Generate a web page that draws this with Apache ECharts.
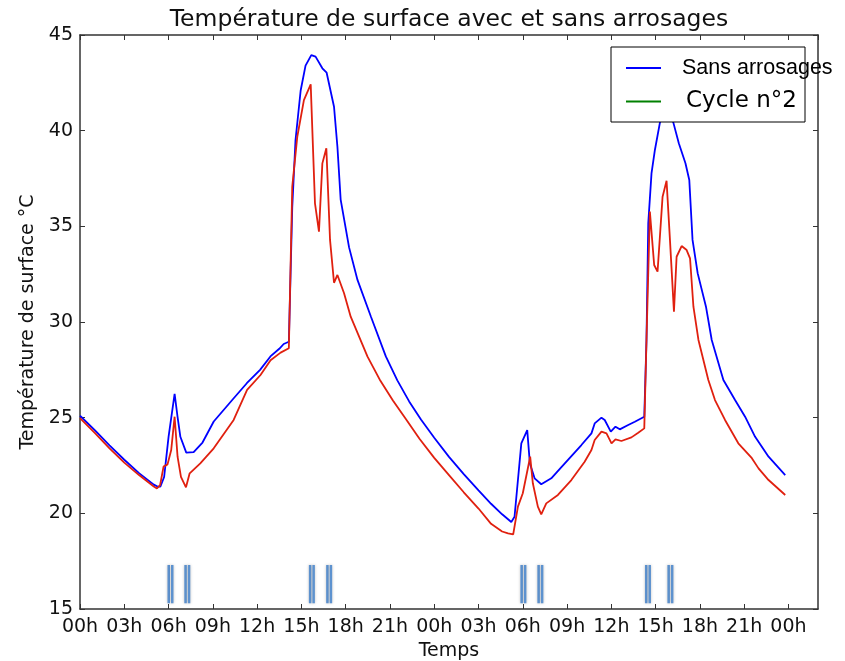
<!DOCTYPE html>
<html><head><meta charset="utf-8">
<script src="https://cdn.jsdelivr.net/npm/echarts@6/dist/echarts.min.js"></script>
<style>html,body{margin:0;padding:0;background:#fff}#c{width:845px;height:661px}</style>
</head><body><div id="c"></div>
<script>
const xTickLabels = ['00h','03h','06h','09h','12h','15h','18h','21h','00h','03h','06h','09h','12h','15h','18h','21h','00h'];

const blueHours = [0,1,2,3,4,5,5.25,5.45,5.7,6.0, 6.41,6.6,6.8,7.2,7.7,8.3,9.06,10.4,11.3,12.2, 12.9,13.5,13.8,14.15,14.38,14.6,14.95,15.28,15.67,15.96, 16.42,16.71,17.21,17.44,17.66,18.23,18.8,19.7,20.72,21.5, 22.3,23.1,24.0,25.0,26.0,27.0,27.85,28.6,29.22,29.44,29.9, 30.3,30.48,30.8,31.25,31.93,32.6,33.97,34.65,34.87,35.33, 35.55,35.96,36.28,36.57,37.14,37.59,38.23,38.38,38.5,38.72, 38.95,39.29,39.6,39.9,40.2,40.57,41.02,41.28,41.5,41.85, 42.41,42.8,43.59,44.38,45.06,45.74,46.65,47.78];
const blueTemps = [25.1,24.35,23.55,22.8,22.1,21.5,21.4,21.4,21.9,24.0, 26.24,25.1,24.0,23.17,23.2,23.7,24.8,26.0,26.8,27.5, 28.2,28.6,28.85,28.97,36.0,39.5,42.1,43.4,43.95,43.87, 43.26,43.03,41.25,39.16,36.4,33.9,32.2,30.3,28.2,26.95, 25.85,24.9,23.95,22.95,22.05,21.2,20.5,19.95,19.55,19.82,23.66, 24.35,22.6,21.83,21.52,21.83,22.4,23.57,24.18,24.7,25.0, 24.88,24.27,24.53,24.39,24.62,24.79,25.05,29.06,35.16,37.77, 38.99,40.42,41.0,41.0,40.42,39.34,38.3,37.42,34.29,32.54, 30.8,29.06,26.97,25.92,25.05,24.0,22.96,22.0];

const redHours = [0,1,2,3,4,5, 5.21,5.43,5.66,5.93,6.18,6.41,6.61,6.84,7.18,7.43, 8.15,9.06,10.41,11.32,12.23,12.91,13.59,14.15, 14.38,14.72,15.17,15.63,15.69,15.92,16.19,16.42,16.69,16.94, 17.21,17.44,17.89,18.34,19.48, 20.3,21.2,22.1,23.0,24.0,25.0,26.0,27.0,27.85,28.6,29.0,29.35, 29.67,30.0,30.5,30.68,31.02,31.25,31.59, 32.38,33.29,34.19,34.65,34.87,35.33,35.67,36.01,36.28,36.68, 37.36,37.82,38.23,38.38,38.61,38.9,39.13,39.47,39.74,39.97, 40.24,40.42,40.76,41.1,41.33,41.56,41.9,42.57,43.02,43.7, 44.6,45.52,45.97,46.65,47.78];
const redTemps = [24.98,24.2,23.4,22.65,22.0,21.4, 21.3,21.48,22.44,22.56,23.31,25.05,22.96,21.91,21.36,22.09, 22.61,23.4,24.88,26.45,27.23,28.0,28.4,28.63, 37.07,39.68,41.6,42.42,42.39,36.2,34.72,38.29,39.08,34.29, 32.05,32.46,31.5,30.28,28.19, 27.0,25.9,24.9,23.9,22.9,22.0,21.1,20.25,19.45,19.05,18.95,18.9, 20.35,21.05,22.96,21.57,20.35,19.95,20.52, 20.96,21.74,22.7,23.31,23.83,24.27,24.18,23.66,23.87,23.78, 23.97,24.21,24.44,29.06,35.77,32.98,32.63,36.55,37.38,34.29, 30.54,33.41,33.97,33.76,33.33,30.8,29.06,26.97,25.92,24.88, 23.66,22.88,22.35,21.74,20.96];

const wateringHours = [6.13, 7.27, 15.71, 16.88, 30.04, 31.19, 38.48, 40.0];
const markerTop = 17.3;
const markerBottom = 15.3;

const zip = (a, b) => a.map((v, i) => [v, b[i]]);
const font = 'DejaVu Sans';
const axisCol = '#333';

const xBase = {
  type: 'value', min: 0, max: 50, interval: 3,
  axisLine: { show: true, onZero: false, lineStyle: { color: axisCol, width: 1.5 } },
  axisTick: { show: true, inside: true, length: 5, lineStyle: { color: axisCol, width: 1 } },
  splitLine: { show: false }
};
const yBase = {
  type: 'value', min: 15, max: 45, interval: 5,
  axisLine: { show: true, onZero: false, lineStyle: { color: axisCol, width: 1.5 } },
  axisTick: { show: true, inside: true, length: 5, lineStyle: { color: axisCol, width: 1 } },
  splitLine: { show: false }
};

const chart = echarts.init(document.getElementById('c'));
chart.setOption({
  animation: false,
  backgroundColor: '#fff',
  title: {
    text: 'Température de surface avec et sans arrosages',
    left: 449, top: 8, textAlign: 'center', padding: 0,
    textStyle: { fontFamily: font, fontSize: 23.5, fontWeight: 'normal', color: '#111' }
  },
  grid: { left: 80, right: 27, top: 35, bottom: 52, containLabel: false, outerBoundsMode: 'none' },
  xAxis: [
    Object.assign({}, xBase, {
      position: 'bottom',
      name: 'Temps', nameLocation: 'middle', nameGap: 33,
      nameTextStyle: { fontFamily: font, fontSize: 19, color: '#111' },
      axisLabel: {
        fontFamily: font, fontSize: 19, color: '#111', margin: 9,
        showMaxLabel: false,
        formatter: v => (v % 3 === 0 && v / 3 < xTickLabels.length) ? xTickLabels[v / 3] : ''
      }
    }),
    Object.assign({}, xBase, { position: 'top', axisLabel: { show: false } })
  ],
  yAxis: [
    Object.assign({}, yBase, {
      position: 'left',
      name: 'Température de surface °C', nameLocation: 'middle', nameGap: 35, nameRotate: 90,
      nameTextStyle: { fontFamily: font, fontSize: 19, color: '#111' },
      axisLabel: { fontFamily: font, fontSize: 19, color: '#111', margin: 7 }
    }),
    Object.assign({}, yBase, { position: 'right', axisLabel: { show: false } })
  ],
  legend: [
    {
      data: [{ name: 'Sans arrosages', icon: 'rect' }],
      left: 626, top: 57, padding: 0, itemWidth: 35, itemHeight: 2,
      selectedMode: false, z: 5,
      textStyle: { fontFamily: 'Liberation Sans', fontSize: 21.5, color: '#000', padding: [0, 0, 0, 16] }
    },
    {
      data: [{ name: 'Cycle n°2', icon: 'rect' }],
      left: 626, top: 90, padding: 0, itemWidth: 35, itemHeight: 2,
      selectedMode: false, z: 5,
      textStyle: { fontFamily: font, fontSize: 23, color: '#000', padding: [0, 0, 0, 20] }
    }
  ],
  graphic: [
    { type: 'rect', z: 3, shape: { x: 611, y: 47, width: 194, height: 75 },
      style: { fill: '#fff', stroke: '#000', lineWidth: 1 } }
  ],
  series: [
    {
      name: 'Sans arrosages', type: 'line', data: zip(blueHours, blueTemps),
      symbol: 'none', showSymbol: false, color: '#0000ff',
      lineStyle: { color: '#0000ff', width: 1.8 }, z: 2
    },
    {
      name: 'Avec arrosages', type: 'line', data: zip(redHours, redTemps),
      symbol: 'none', showSymbol: false, color: '#e0200f',
      lineStyle: { color: '#e0200f', width: 1.8 }, z: 2
    },
    {
      name: 'Cycle n°2', type: 'line', data: [], symbol: 'none', color: '#008000',
      lineStyle: { color: '#008000', width: 1.8 }
    },
    {
      name: 'Arrosages', type: 'custom', data: wateringHours.map(h => [h, markerTop]),
      encode: { x: 0, y: 1 }, z: 1,
      renderItem: (params, api) => {
        const t = api.value(0);
        const p0 = api.coord([t, markerTop]);
        const p1 = api.coord([t, markerBottom]);
        const h = p1[1] - p0[1];
        const st = { fill: '#5d92cf', shadowBlur: 3, shadowColor: 'rgba(0,0,0,0.25)' };
        return { type: 'group', children: [
          { type: 'rect', shape: { x: p0[0] - 3, y: p0[1], width: 2.5, height: h }, style: st },
          { type: 'rect', shape: { x: p0[0] + 0.5, y: p0[1], width: 2.5, height: h }, style: st }
        ]};
      }
    }
  ]
});
</script>
</body></html>
